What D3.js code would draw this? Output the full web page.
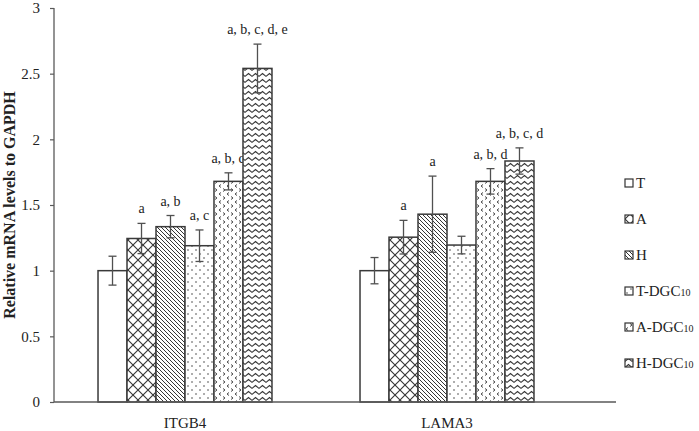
<!DOCTYPE html>
<html>
<head>
<meta charset="utf-8">
<script src="https://cdn.jsdelivr.net/npm/d3@7"></script>
<style>
  html, body { margin: 0; padding: 0; background: #fff; }
  svg { display: block; }
  svg text { font-family: 'Liberation Serif', 'Times New Roman', serif !important; }
</style>
</head>
<body>
<svg id="chart" width="699" height="431"></svg>
<script>
// ---- data ----
const categories = ["ITGB4", "LAMA3"];
const seriesKeys = ["T", "A", "H", "T-DGC10", "A-DGC10", "H-DGC10"];
const legendBase = ["T", "A", "H", "T-DGC", "A-DGC", "H-DGC"];
const legendSub = ["", "", "", "10", "10", "10"];
const itgb4Values = [1.00, 1.245, 1.335, 1.19, 1.68, 2.54];
const itgb4Errors = [0.11, 0.115, 0.085, 0.12, 0.065, 0.185];
const itgb4Labels = ["", "a", "a, b", "a, c", "a, b, d", "a, b, c, d, e"];
const lama3Values = [1.00, 1.255, 1.43, 1.195, 1.68, 1.835];
const lama3Errors = [0.10, 0.128, 0.29, 0.067, 0.097, 0.10];
const lama3Labels = ["", "a", "a", "", "a, b, d", "a, b, c, d"];
const yTicks = [0, 0.5, 1, 1.5, 2, 2.5, 3];

const table = [
  { cat: categories[0], values: itgb4Values, errors: itgb4Errors, labels: itgb4Labels },
  { cat: categories[1], values: lama3Values, errors: lama3Errors, labels: lama3Labels }
];

// ---- layout ----
const svg = d3.select("#chart");
const FONT = "'Liberation Serif', 'Times New Roman', serif";
const plotLeft = 54, plotTop = 8, plotBottom = 402, plotRight = 616, bandRight = 578;
const ink = "#333";
const axisColor = "#595959";

const x0 = d3.scaleBand().domain(categories).range([plotLeft, bandRight])
  .paddingInner(0.336).paddingOuter(0.168);
const x1 = d3.scaleBand().domain(seriesKeys).range([0, x0.bandwidth()]).padding(0);
const y = d3.scaleLinear().domain([0, 3]).range([plotBottom, plotTop]);

// ---- patterns ----
const defs = svg.append("defs");
function pat(id, w, h, draw) {
  const p = defs.append("pattern").attr("id", id).attr("patternUnits", "userSpaceOnUse")
    .attr("width", w).attr("height", h);
  p.append("rect").attr("width", w).attr("height", h).attr("fill", "#fff");
  draw(p);
}
pat("p0", 10, 10, p => {});
pat("p1", 10, 10, p => p.append("path").attr("d", "M0,0 L10,10 M10,0 L0,10")
  .attr("stroke", ink).attr("stroke-width", 1.1).attr("fill", "none"));
pat("p2", 4, 4, p => p.append("path").attr("d", "M-1,-1 L5,5 M3,-1 L5,1 M-1,3 L1,5")
  .attr("stroke", ink).attr("stroke-width", 1).attr("fill", "none"));
pat("p3", 8, 8, p => {
  p.append("circle").attr("cx", 2).attr("cy", 2).attr("r", 0.75).attr("fill", ink);
  p.append("circle").attr("cx", 6).attr("cy", 6).attr("r", 0.75).attr("fill", ink);
});
pat("p4", 8, 8, p => p.append("path")
  .attr("d", "M3,0.5 L1,2 L3,3.5 M5,4.5 L7,6 L5,7.5")
  .attr("stroke", ink).attr("stroke-width", 0.9).attr("fill", "none"));
pat("p5", 7, 6, p => p.append("path").attr("d", "M-0.5,4.8 L3.5,1.5 L7.5,4.8")
  .attr("stroke", ink).attr("stroke-width", 1.1).attr("fill", "none"));

// ---- y axis ----
const yAxis = svg.append("g").attr("transform", `translate(${plotLeft},0)`)
  .call(d3.axisLeft(y).tickValues(yTicks).tickSize(4).tickPadding(10).tickFormat(d3.format("")));
yAxis.attr("font-family", null);
yAxis.select(".domain").attr("stroke", axisColor).attr("stroke-width", 1.3)
  .attr("d", `M0,${plotTop}V${plotBottom}`);
yAxis.selectAll(".tick line").attr("stroke", axisColor).attr("stroke-width", 1.2);
yAxis.selectAll(".tick text").attr("fill", "#222").attr("font-size", 15).style("font-family", FONT);

// ---- x axis ----
const xAxis = svg.append("g").attr("transform", `translate(0,${plotBottom})`)
  .call(d3.axisBottom(x0).tickSize(0).tickPadding(15));
xAxis.attr("font-family", null);
xAxis.select(".domain").remove();
xAxis.selectAll(".tick text").attr("fill", "#222").attr("font-size", 15).style("font-family", FONT);

// ---- bars ----
const groups = svg.append("g").selectAll("g").data(table).join("g")
  .attr("transform", d => `translate(${x0(d.cat)},0)`);

const items = groups.selectAll("g.item")
  .data(d => seriesKeys.map((k, i) => ({ k, i, v: d.values[i], e: d.errors[i], l: d.labels[i] })))
  .join("g").attr("class", "item");

items.append("rect")
  .attr("x", d => x1(d.k)).attr("width", x1.bandwidth())
  .attr("y", d => y(d.v)).attr("height", d => y(0) - y(d.v))
  .attr("fill", d => `url(#p${d.i})`).attr("stroke", "#3a3a3a").attr("stroke-width", 1.5);

const errColor = "#505050";
const cx = d => x1(d.k) + x1.bandwidth() / 2;
items.append("line")
  .attr("x1", cx).attr("x2", cx)
  .attr("y1", d => y(d.v + d.e)).attr("y2", d => y(d.v - d.e))
  .attr("stroke", errColor).attr("stroke-width", 1.3);
items.append("line")
  .attr("x1", d => cx(d) - 4).attr("x2", d => cx(d) + 4)
  .attr("y1", d => y(d.v + d.e)).attr("y2", d => y(d.v + d.e))
  .attr("stroke", errColor).attr("stroke-width", 1.3);
items.append("line")
  .attr("x1", d => cx(d) - 4).attr("x2", d => cx(d) + 4)
  .attr("y1", d => y(d.v - d.e)).attr("y2", d => y(d.v - d.e))
  .attr("stroke", errColor).attr("stroke-width", 1.3);

items.filter(d => d.l).append("text")
  .attr("x", cx)
  .attr("y", d => y(d.v + d.e) - 10)
  .attr("text-anchor", "middle").attr("font-size", 14).attr("fill", "#222")
  .style("font-family", FONT)
  .text(d => d.l);

// x axis line drawn on top of bars
svg.append("line").attr("x1", plotLeft).attr("x2", plotRight)
  .attr("y1", plotBottom).attr("y2", plotBottom)
  .attr("stroke", axisColor).attr("stroke-width", 1.5);

// ---- y label ----
svg.append("text")
  .attr("transform", `translate(15,${(plotTop + plotBottom) / 2}) rotate(-90)`)
  .attr("text-anchor", "middle").attr("font-size", 16).attr("font-weight", "bold").attr("fill", "#222")
  .style("font-family", FONT)
  .text("Relative mRNA levels to GAPDH");

// ---- legend ----
const legend = svg.append("g").selectAll("g").data(seriesKeys).join("g")
  .attr("transform", (d, i) => `translate(625,${183 + i * 36})`);
legend.append("rect").attr("x", 0).attr("y", -4).attr("width", 8).attr("height", 8)
  .attr("fill", (d, i) => `url(#p${i})`).attr("stroke", "#333").attr("stroke-width", 1.2);
const lt = legend.append("text").attr("x", 11).attr("y", 5).attr("font-size", 15).attr("fill", "#222")
  .style("font-family", FONT);
lt.append("tspan").text((d, i) => legendBase[i]);
lt.append("tspan").attr("font-size", 10).text((d, i) => legendSub[i]);
</script>
</body>
</html>
